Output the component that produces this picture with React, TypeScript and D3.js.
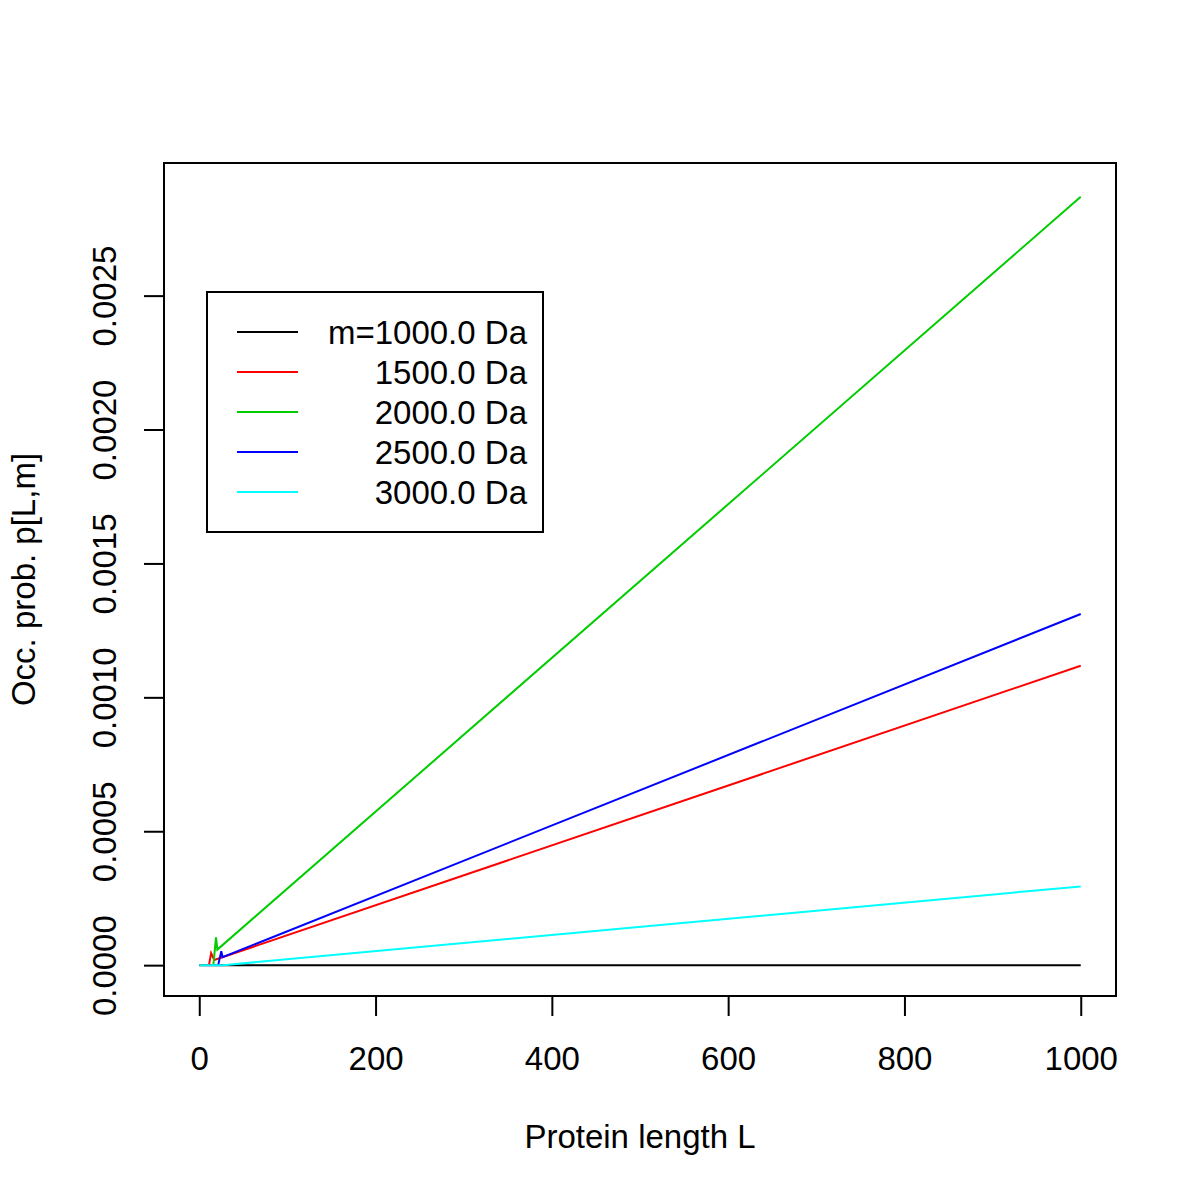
import React, { useEffect, useRef } from 'react';
import * as d3 from 'd3';

// Each series: protein length L and occurrence probability
const blackL = [0, 1000];
const blackP = [0, 0];
const redL = [11, 13.5, 17, 1000];
const redP = [0, 0.000045, 0.000019, 0.001118];
const greenL = [16, 19, 20.5, 1000];
const greenP = [0, 0.000104, 0.000058, 0.002869];
const blueL = [21.5, 25, 26.5, 1000];
const blueP = [0, 0.000052, 0.00003, 0.001311];
const cyanL = [0, 27, 1000];
const cyanP = [0, 0, 0.000294];

const seriesNames = ['m=1000.0 Da', '1500.0 Da', '2000.0 Da', '2500.0 Da', '3000.0 Da'];
const seriesColors = ['#000000', '#ff0000', '#00cd00', '#0000ff', '#00ffff'];

const xTicks = [0, 200, 400, 600, 800, 1000];
const yTicks = [0, 0.0005, 0.001, 0.0015, 0.002, 0.0025];

const App: React.FC = () => {
  const svgRef = useRef<SVGSVGElement>(null);

  useEffect(() => {
    if (!svgRef.current) return;
    const svg = d3.select(svgRef.current);
    svg.selectAll('*').remove();

    const width = 1200;
    const height = 1200;
    const box = { left: 164, right: 1116, top: 163, bottom: 996 };
    const font = '"Liberation Sans", Arial, Helvetica, sans-serif';
    const fs = 33;

    svg.append('rect').attr('width', width).attr('height', height).attr('fill', '#fff');

    const x = d3.scaleLinear().domain([-40, 1040]).range([box.left, box.right]);
    const y = d3.scaleLinear().domain([-0.0001152, 0.0029952]).range([box.bottom, box.top]);

    const series = [
      { L: blackL, P: blackP },
      { L: redL, P: redP },
      { L: greenL, P: greenP },
      { L: blueL, P: blueP },
      { L: cyanL, P: cyanP },
    ];

    const line = d3.line<[number, number]>()
      .x(d => x(d[0]))
      .y(d => y(d[1]));

    series.forEach((s, i) => {
      const pts = s.L.map((l, j) => [l, s.P[j]] as [number, number]);
      svg.append('path')
        .datum(pts)
        .attr('fill', 'none')
        .attr('stroke', seriesColors[i])
        .attr('stroke-width', 2)
        .attr('d', line);
    });

    // Plot box
    svg.append('rect')
      .attr('x', box.left).attr('y', box.top)
      .attr('width', box.right - box.left).attr('height', box.bottom - box.top)
      .attr('fill', 'none').attr('stroke', '#000').attr('stroke-width', 2);

    // X axis
    const xAxis = svg.append('g')
      .attr('transform', `translate(0,${box.bottom})`)
      .call(d3.axisBottom(x).tickValues(xTicks).tickSize(20).tickPadding(31).tickFormat(d => `${d}`));
    xAxis.select('.domain')
      .attr('d', `M${x(0)},0H${x(1000)}`)
      .attr('stroke-width', 2);
    xAxis.selectAll('.tick line').attr('stroke-width', 2);
    xAxis.selectAll('.tick text')
      .attr('font-family', font).attr('font-size', fs).attr('fill', '#000');

    // Y axis
    const yAxis = svg.append('g')
      .attr('transform', `translate(${box.left},0)`)
      .call(d3.axisLeft(y).tickValues(yTicks).tickSize(20).tickFormat(d => (d as number).toFixed(4)));
    yAxis.select('.domain')
      .attr('d', `M0,${y(0)}V${y(0.0025)}`)
      .attr('stroke-width', 2);
    yAxis.selectAll('.tick line').attr('stroke-width', 2);
    yAxis.selectAll('.tick text')
      .attr('font-family', font).attr('font-size', fs).attr('fill', '#000')
      .attr('x', 0).attr('dy', 0)
      .attr('text-anchor', 'middle')
      .attr('transform', 'translate(-48,0) rotate(-90)');

    // Axis titles
    svg.append('text')
      .attr('x', (box.left + box.right) / 2).attr('y', 1148)
      .attr('text-anchor', 'middle')
      .attr('font-family', font).attr('font-size', fs)
      .text('Protein length L');

    svg.append('text')
      .attr('transform', `translate(35,${(box.top + box.bottom) / 2}) rotate(-90)`)
      .attr('text-anchor', 'middle')
      .attr('font-family', font).attr('font-size', fs)
      .text('Occ. prob. p[L,m]');

    // Legend
    const legend = svg.append('g').attr('transform', 'translate(207,292)');
    legend.append('rect')
      .attr('width', 336).attr('height', 240)
      .attr('fill', '#fff').attr('stroke', '#000').attr('stroke-width', 2);
    seriesNames.forEach((name, i) => {
      const ly = 40 + i * 40;
      legend.append('line')
        .attr('x1', 30).attr('x2', 91)
        .attr('y1', ly).attr('y2', ly)
        .attr('stroke', seriesColors[i]).attr('stroke-width', 2);
      legend.append('text')
        .attr('x', 320).attr('y', ly + 12)
        .attr('text-anchor', 'end')
        .attr('font-family', font).attr('font-size', fs)
        .text(name);
    });
  }, []);

  return <svg ref={svgRef} width={1200} height={1200} style={{ display: 'block', margin: -8 }} />;
};

export default App;
